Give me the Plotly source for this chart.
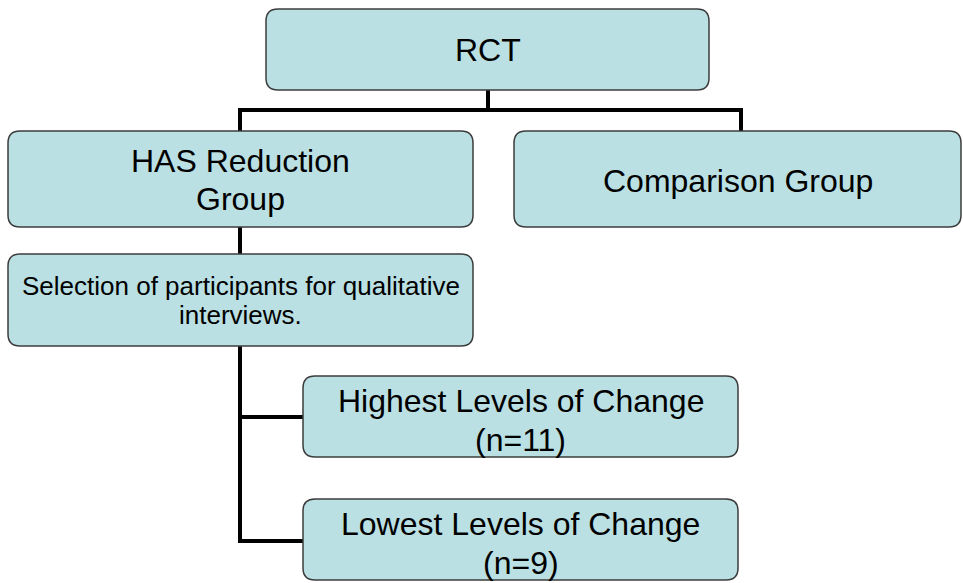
import plotly.graph_objects as go

# ---- content ----
node_ids = ["rct", "has", "comp", "sel", "high", "low"]
node_lines = [
    ["RCT"],
    ["HAS Reduction", "Group"],
    ["Comparison Group"],
    ["Selection of participants for qualitative", "interviews."],
    ["Highest Levels of Change", "(n=11)"],
    ["Lowest Levels of Change", "(n=9)"],
]

# ---- layout geometry (pixel space, y grows downward) ----
boxes = {
    "rct": (266, 9, 709, 90),
    "has": (8, 131, 473, 227),
    "comp": (514, 131, 961, 227),
    "sel": (8, 254, 473, 346),
    "high": (303, 376, 738, 457),
    "low": (303, 499, 738, 580),
}
line_centers = {
    "rct": [50],
    "has": [161, 199],
    "comp": [181],
    "sel": [286, 315],
    "high": [401, 440],
    "low": [524, 563],
}
font_sizes = {"rct": 32, "has": 32, "comp": 32, "sel": 26, "high": 32, "low": 32}

connectors = [
    [(488, 90), (488, 110)],
    [(240, 131), (240, 110), (741, 110), (741, 131)],
    [(240, 227), (240, 254)],
    [(240, 346), (240, 541), (303, 541)],
    [(240, 417), (303, 417)],
]

FILL = "#BAE0E3"
EDGE = "#3C3C3C"
R = 12


def rounded_path(x0, y0, x1, y1, r):
    return (
        f"M {x0 + r} {y0} L {x1 - r} {y0} Q {x1} {y0} {x1} {y0 + r} "
        f"L {x1} {y1 - r} Q {x1} {y1} {x1 - r} {y1} "
        f"L {x0 + r} {y1} Q {x0} {y1} {x0} {y1 - r} "
        f"L {x0} {y0 + r} Q {x0} {y0} {x0 + r} {y0} Z"
    )


fig = go.Figure()
shapes = []
for pts in connectors:
    d = "M " + " L ".join(f"{x} {y}" for x, y in pts)
    shapes.append(dict(type="path", path=d, line=dict(color="black", width=4),
                       xref="x", yref="y", layer="below"))
for nid in node_ids:
    x0, y0, x1, y1 = boxes[nid]
    shapes.append(dict(type="path", path=rounded_path(x0, y0, x1, y1, R),
                       fillcolor=FILL, line=dict(color=EDGE, width=1.5),
                       xref="x", yref="y", layer="above"))

annotations = []
for nid, lines in zip(node_ids, node_lines):
    x0, y0, x1, y1 = boxes[nid]
    for txt, yc in zip(lines, line_centers[nid]):
        annotations.append(dict(x=(x0 + x1) / 2, y=yc, text=txt, showarrow=False,
                                xanchor="center", yanchor="middle",
                                font=dict(family="Liberation Sans, Arial, sans-serif",
                                          size=font_sizes[nid], color="black")))

fig.update_layout(
    width=963, height=583,
    margin=dict(l=0, r=0, t=0, b=0),
    paper_bgcolor="white", plot_bgcolor="white",
    shapes=shapes, annotations=annotations,
    xaxis=dict(range=[0, 963], visible=False, fixedrange=True),
    yaxis=dict(range=[583, 0], visible=False, fixedrange=True),
    showlegend=False,
)
fig.write_html("out.html",
               config={"displayModeBar": False, "staticPlot": True},
               post_script="document.body.style.margin='0';document.body.style.overflow='hidden';")
